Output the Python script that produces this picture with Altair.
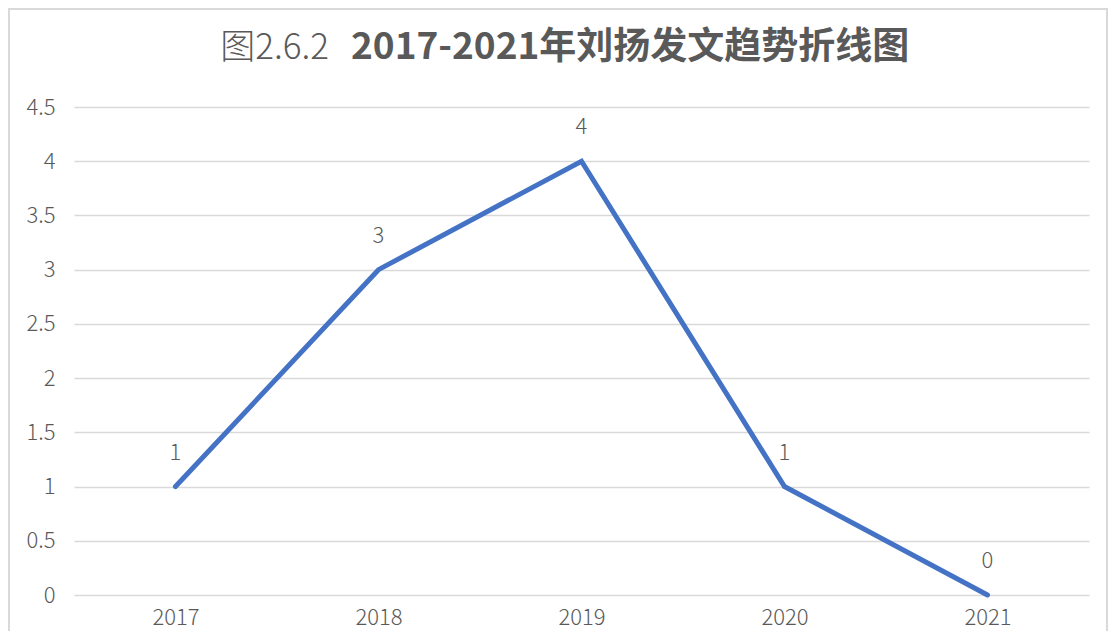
import altair as alt
import pandas as pd

years = ["2017", "2018", "2019", "2020", "2021"]
counts = [1, 3, 4, 1, 0]
y_ticks = [0, 0.5, 1, 1.5, 2, 2.5, 3, 3.5, 4, 4.5]
title_normal = "图2.6.2"
title_bold = "2017-2021年刘扬发文趋势折线图"

df = pd.DataFrame({"year": years, "count": counts})
one = pd.DataFrame({"k": [0]})

FONT = "Noto Sans CJK SC"
GREY = "#595959"

x_enc = alt.X("year:O", sort=years,
              scale=alt.Scale(type="point", padding=0.5),
              axis=alt.Axis(title=None, labelAngle=0, domain=False, ticks=False,
                            grid=False, labelPadding=12, labelFontSize=22,
                            labelFontWeight=300,
                            labelColor=GREY, labelFont=FONT))
y_enc = alt.Y("count:Q", scale=alt.Scale(domain=[0, 4.5], nice=False),
              axis=alt.Axis(title=None, values=y_ticks, format="~g",
                            domain=False, ticks=False, grid=True,
                            gridColor="#D9D9D9", gridWidth=1.5,
                            labelPadding=19, labelFontSize=22,
                            labelFontWeight=300,
                            labelColor=GREY, labelFont=FONT))

base = alt.Chart(df)

line = base.mark_line(color="#4472C4", strokeWidth=5, strokeCap="round").encode(
    x=x_enc, y=y_enc)

labels = base.mark_text(dy=-34, baseline="middle", align="center",
                        fontSize=22, fontWeight=300, font=FONT, color=GREY).encode(
    x=alt.X("year:O", sort=years), y="count:Q", text="count:Q")

border = alt.Chart(one).mark_rect(fillOpacity=0, stroke="#D9D9D9", strokeWidth=2).encode(
    x=alt.value(-65), x2=alt.value(1033), y=alt.value(-98), y2=alt.value(560))

t1 = alt.Chart(one).mark_text(align="right", baseline="middle", fontSize=35,
                              fontWeight=300, font=FONT, color=GREY).encode(
    x=alt.value(255), y=alt.value(-59), text=alt.value(title_normal))

t2 = alt.Chart(one).mark_text(align="left", baseline="middle", fontSize=37,
                              font=FONT, fontWeight="bold", color=GREY).encode(
    x=alt.value(277), y=alt.value(-59), text=alt.value(title_bold))

chart = alt.layer(border, line, labels, t1, t2).properties(
    width=1015, height=488,
    padding={"left": 66, "top": 99, "right": 20, "bottom": 36},
    autosize=alt.AutoSizeParams(type="none"),
    background="white",
).configure_view(stroke=None)

chart.save("out.html", embed_options={"renderer": "svg", "actions": False})
